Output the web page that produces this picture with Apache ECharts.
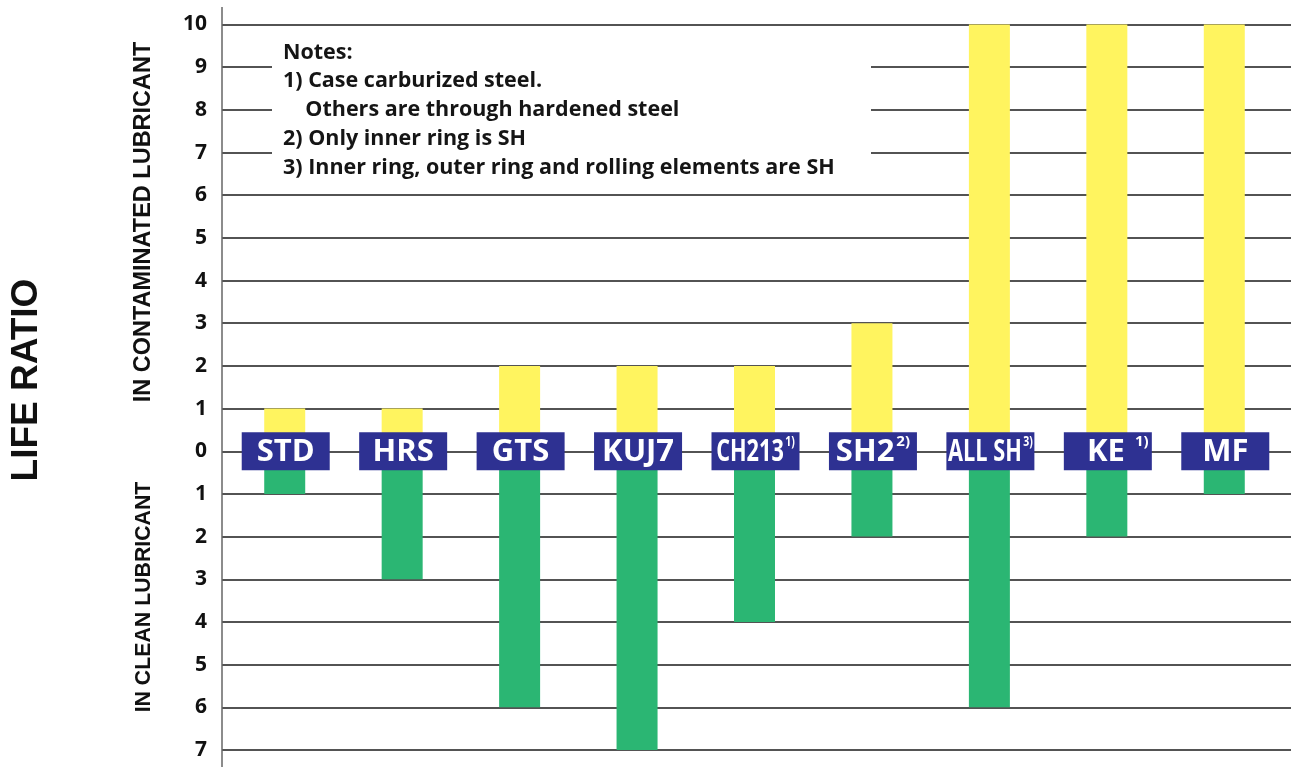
<!DOCTYPE html>
<html>
<head>
<meta charset="utf-8">
<script src="https://cdn.jsdelivr.net/npm/echarts@6/dist/echarts.min.js"></script>
<style>
html,body{margin:0;padding:0;background:#fff;}
#chart{width:1291px;height:767px;}
</style>
</head>
<body>
<div id="chart"></div>
<script>
var categories = ['STD', 'HRS', 'GTS', 'KUJ7', 'CH213', 'SH2', 'ALL SH', 'KE', 'MF'];
var superscripts = ['', '', '', '', '1)', '2)', '3)', '1)', ''];
var condensed = [false, false, false, false, true, false, true, false, false];
var contaminated = [1, 1, 2, 2, 2, 3, 10, 10, 10];
var clean = [1, 3, 6, 7, 4, 2, 6, 2, 1];
var yTicks = [-7, 10, 1]; // min, max, interval

var notes = [
  'Notes:',
  '1) Case carburized steel.',
  '    Others are through hardened steel',
  '2) Only inner ring is SH',
  '3) Inner ring, outer ring and rolling elements are SH'
];

var chart = echarts.init(document.getElementById('chart'));

function labelRich(i) {
  var c = categories[i], s = superscripts[i];
  if (!s) return '{m|' + c + '}';
  if (c === 'KE') return '{pad|}{m|KE}{gap|}{s|' + s + '}';
  return '{m|' + c + '}{s|' + s + '}';
}

var richStyles = {
  m: { fontSize: 31, fontWeight: 'bold', fill: '#fff', fontFamily: 'Open Sans, sans-serif', lineHeight: 36, verticalAlign: 'middle' },
  s: { fontSize: 15, fontWeight: 'bold', fill: '#fff', fontFamily: 'Open Sans, sans-serif', lineHeight: 30, verticalAlign: 'top', padding: [0, 0, 0, 2] },
  pad: { width: 20, lineHeight: 36 },
  gap: { width: 8, lineHeight: 36 }
};

var option = {
  animation: false,
  backgroundColor: '#fff',
  grid: [
    { left: 222, right: 0, top: 24.5, bottom: 17 },
    { left: 226, right: 8, top: 24.5, bottom: 17 }
  ],
  xAxis: [
    { gridIndex: 0, type: 'value', show: false, min: 0, max: 1 },
    { gridIndex: 1, type: 'category', data: categories, show: false }
  ],
  yAxis: [
    {
      gridIndex: 0, type: 'value', min: yTicks[0], max: yTicks[1], interval: yTicks[2],
      axisLine: { show: false }, axisTick: { show: false },
      splitLine: { show: true, lineStyle: { color: '#1a1a1a', width: 1.6 } },
      axisLabel: {
        margin: 15, fontSize: 21, fontWeight: 'bold', color: '#111',
        fontFamily: 'Open Sans, sans-serif',
        formatter: function (v) { return Math.abs(v); }
      }
    },
    {
      gridIndex: 1, type: 'value', min: yTicks[0], max: yTicks[1], interval: yTicks[2],
      show: false, splitLine: { show: false }
    }
  ],
  series: [
    {
      type: 'bar', xAxisIndex: 1, yAxisIndex: 1, data: contaminated,
      barWidth: 41, barGap: '-100%', itemStyle: { color: '#FFF45F' }, z: 3
    },
    {
      type: 'bar', xAxisIndex: 1, yAxisIndex: 1,
      data: clean.map(function (v) { return -v; }),
      barWidth: 41, barGap: '-100%', itemStyle: { color: '#2BB673' }, z: 3
    },
    {
      type: 'custom', xAxisIndex: 1, yAxisIndex: 1, z: 5,
      data: categories.map(function (c, i) { return [i, 0]; }),
      encode: { x: 0, y: 1 },
      renderItem: function (params, api) {
        var i = api.value(0);
        var p = api.coord([i, api.value(1)]);
        var cx = p[0] + 1, cy = p[1];
        return {
          type: 'group',
          children: [
            { type: 'rect', shape: { x: cx - 44, y: cy - 19, width: 88, height: 38 }, style: { fill: '#2E3192' } },
            {
              type: 'text', x: cx, y: cy + 1, scaleX: condensed[i] ? 0.7 : 1,
              style: { text: labelRich(i), rich: richStyles, align: 'center', verticalAlign: 'middle', fill: '#fff' }
            }
          ]
        };
      }
    }
  ],
  graphic: [
    { type: 'line', shape: { x1: 222, y1: 7, x2: 222, y2: 767 }, style: { stroke: '#666', lineWidth: 1.5 }, z: 10 },
    { type: 'rect', shape: { x: 272, y: 36, width: 599, height: 149 }, style: { fill: '#fff' }, z: 10 },
    {
      type: 'text', x: 283, y: 38, z: 11,
      style: {
        text: notes.join('\n'), fill: '#151515', fontSize: 21.5, fontWeight: 'bold',
        fontFamily: 'Open Sans, sans-serif', lineHeight: 28.8, textVerticalAlign: 'top', textAlign: 'left'
      }
    },
    {
      type: 'text', x: 27, y: 380, rotation: Math.PI / 2, z: 11,
      style: { text: 'LIFE RATIO', fill: '#111', fontSize: 37, fontWeight: 'bold', fontFamily: 'Liberation Sans, Arial, sans-serif', textAlign: 'center', textVerticalAlign: 'middle' }
    },
    {
      type: 'text', x: 144, y: 222, rotation: Math.PI / 2, z: 11,
      style: { text: 'IN CONTAMINATED LUBRICANT', fill: '#111', fontSize: 23.5, fontWeight: 'bold', fontFamily: 'Liberation Sans, Arial, sans-serif', textAlign: 'center', textVerticalAlign: 'middle' }
    },
    {
      type: 'text', x: 144, y: 597, rotation: Math.PI / 2, z: 11,
      style: { text: 'IN CLEAN LUBRICANT', fill: '#111', fontSize: 21.3, fontWeight: 'bold', fontFamily: 'Liberation Sans, Arial, sans-serif', textAlign: 'center', textVerticalAlign: 'middle' }
    }
  ]
};
chart.setOption(option);
</script>
</body>
</html>
